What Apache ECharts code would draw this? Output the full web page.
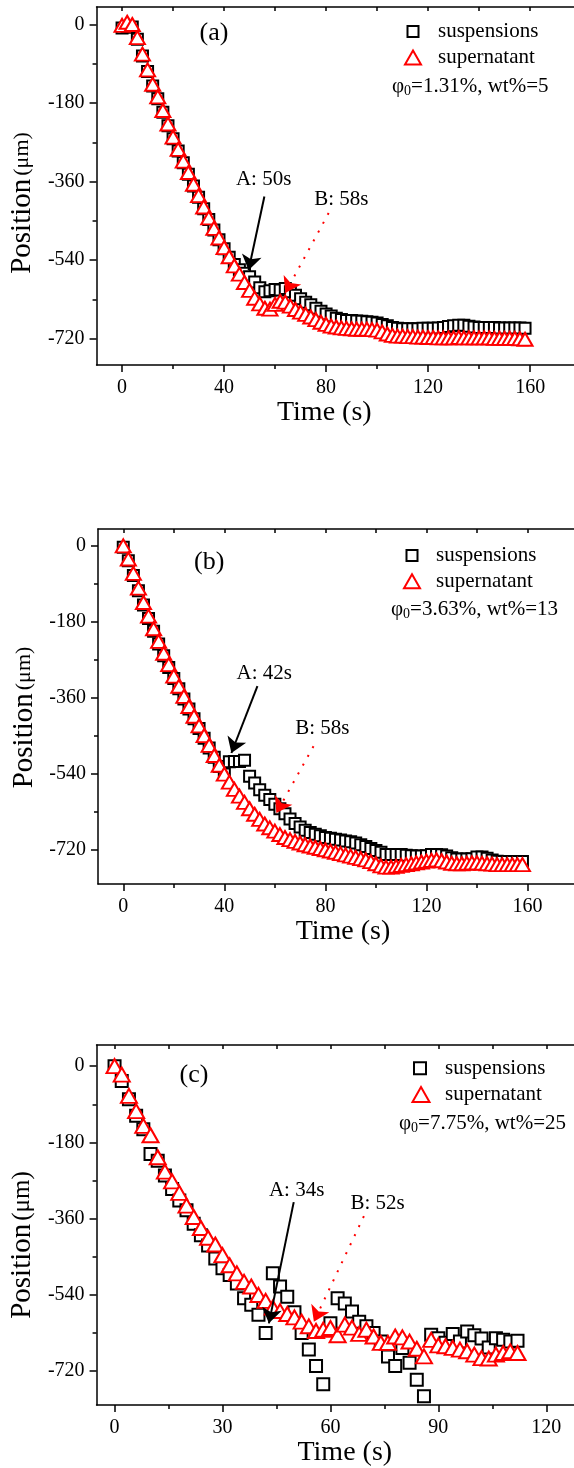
<!DOCTYPE html>
<html>
<head>
<meta charset="utf-8">
<script src="https://cdn.jsdelivr.net/npm/echarts@6/dist/echarts.min.js"></script>
<style>
html,body{margin:0;padding:0;background:#fff;}
#chart{width:574px;height:1468px;}
</style>
</head>
<body>
<div id="chart"></div>
<script>
// ---------------- DATA ----------------
const timeAB = [0,2,4,6,8,10,12,14,16,18,20,22,24,26,28,30,32,34,36,38,40,42,44,46,48,50,52,54,56,58,60,62,64,66,68,70,72,74,76,78,80,82,84,86,88,90,92,94,96,98,100,102,104,106,108,110,112,114,116,118,120,122,124,126,128,130,132,134,136,138,140,142,144,146,148,150,152,154,156,158];
const timeC = [0,2,4,6,8,10,12,14,16,18,20,22,24,26,28,30,32,34,36,38,40,42,44,46,48,50,52,54,56,58,60,62,64,66,68,70,72,74,76,78,80,82,84,86,88,90,92,94,96,98,100,102,104,106,108,110,112];

// panel (a)
const susA = [-8,-6,-6,-34,-72,-108,-141,-170,-201,-232,-262,-290,-317,-343,-370,-396,-422,-447,-471,-493,-514,-533,-550,-562,-570,-578,-590,-603,-612,-610,-607,-608,-605,-612,-620,-628,-636,-642,-650,-657,-663,-668,-673,-676,-678,-678,-679,-680,-681,-682,-684,-687,-690,-694,-696,-697,-697,-697,-697,-696,-696,-696,-695,-694,-692,-690,-689,-689,-691,-693,-694,-694,-694,-694,-695,-695,-695,-695,-695,-696];
const supA = [-2,5,0,-30,-68,-104,-137,-166,-197,-228,-258,-286,-313,-339,-366,-392,-418,-443,-467,-489,-511,-532,-553,-572,-591,-609,-627,-640,-650,-652,-641,-634,-636,-645,-653,-659,-664,-670,-676,-682,-687,-691,-693,-695,-696,-697,-698,-698,-698,-699,-700,-704,-709,-712,-714,-714,-715,-715,-716,-716,-717,-717,-718,-718,-718,-718,-717,-718,-718,-718,-718,-718,-718,-719,-719,-719,-719,-719,-720,-721];

// panel (b)
const susB = [-3,-35,-70,-106,-140,-172,-202,-232,-260,-288,-314,-338,-362,-386,-409,-432,-455,-478,-500,-522,-540,-511,-510,-510,-507,-545,-561,-577,-590,-600,-611,-622,-634,-646,-657,-665,-673,-678,-682,-686,-690,-692,-694,-696,-698,-700,-703,-707,-711,-716,-721,-725,-730,-730,-730,-730,-732,-733,-734,-734,-733,-730,-730,-731,-734,-738,-741,-741,-741,-740,-736,-736,-739,-743,-746,-747,-747,-747,-747,-747];
const supB = [0,-31,-65,-100,-134,-166,-196,-226,-254,-281,-308,-332,-356,-380,-403,-426,-449,-472,-496,-519,-540,-559,-576,-592,-607,-622,-635,-647,-658,-667,-675,-683,-690,-695,-699,-703,-707,-710,-713,-716,-719,-722,-725,-728,-731,-734,-737,-740,-743,-747,-752,-757,-760,-760,-758,-756,-754,-752,-750,-748,-746,-744,-743,-745,-748,-751,-752,-752,-751,-750,-750,-751,-752,-753,-754,-754,-754,-754,-754,-754];

// panel (c)
const susC = [0,-35,-78,-117,-149,-207,-223,-258,-290,-317,-340,-372,-399,-423,-454,-477,-493,-513,-548,-563,-587,-630,-489,-520,-544,-581,-630,-669,-708,-751,-607,-548,-560,-579,-603,-614,-630,-650,-685,-708,-665,-700,-740,-779,-634,-642,-653,-632,-650,-626,-635,-643,-664,-642,-646,-650,-648];
const supC = [0,-20,-70,-106,-141,-163,-215,-249,-272,-299,-329,-356,-382,-405,-421,-446,-470,-489,-509,-520,-540,-554,-570,-578,-585,-593,-603,-614,-625,-622,-618,-635,-610,-617,-632,-622,-638,-653,-653,-638,-640,-650,-667,-685,-646,-659,-661,-665,-669,-673,-681,-689,-690,-681,-677,-673,-677];

// tick values
const xTicksAB = [0,40,80,120,160];
const xMinorAB = [20,60,100,140];
const xTicksC = [0,30,60,90,120];
const xMinorC = [15,45,75,105];
const yTicks = [0,-180,-360,-540,-720];
const yMinor = [-90,-270,-450,-630];

// annotations: [label, textX, textY, fromX, fromY, toX, toY]
const annA = [['A: 50s',55.5,-356,55.8,-394,49.6,-563],['B: 58s',86,-402,81,-432,64,-615]];
const annB = [['A: 42s',55.8,-302,53.1,-332,42.8,-490],['B: 58s',78.8,-433,75.3,-474,60.6,-632]];
const annC = [['A: 34s',50.6,-293,49.8,-321,42.9,-607],['B: 52s',73.1,-325,69.3,-354,55.4,-603]];

const panelLabels = ['(a)','(b)','(c)'];
const phiTexts = ['=1.31%, wt%=5','=3.63%, wt%=13','=7.75%, wt%=25'];

// ---------------- CHART ----------------
const FONT = 'Liberation Serif';
const BLACK = '#000';
const RED = '#ff0000';
const zip = (t, v) => t.map((x, i) => [x, v[i]]);

const grids = [
  {left: 95, top: 7, width: 479, height: 358},
  {left: 98, top: 529, width: 476, height: 355},
  {left: 93, top: 1045, width: 481, height: 362}
];
const xRanges = [[-10, 177.2], [-10, 178.4], [-5, 127.7]];
const yRanges = [[-780, 40], [-800, 40], [-800, 50]];
const xTickSets = [[xTicksAB, xMinorAB], [xTicksAB, xMinorAB], [xTicksC, xMinorC]];
const timePad = [[0,22,0,0],[0,0,0,14],[0,0,0,19]];
const posPad = [[0,34,0,0],[0,22,0,0],[0,40,0,0]];
const muSize = [22, 22, 25];
const symSq = [11, 11, 12];
const symTri = [[15,13],[15,13],[16,14]];

const lineCol = {color: BLACK, width: 1.5};
const xAxes = [], yAxes = [];
for (let g = 0; g < 3; g++) {
  const [min, max] = xRanges[g];
  const [tk, mn] = xTickSets[g];
  xAxes.push({
    type: 'value', gridIndex: g, min, max, position: 'bottom',
    axisLine: {show: true, onZero: false, lineStyle: lineCol},
    axisTick: {show: true, inside: false, length: 7, customValues: tk, lineStyle: lineCol},
    axisLabel: {show: true, customValues: tk, margin: 13, color: BLACK, fontFamily: FONT, fontSize: 20},
    splitLine: {show: false},
    name: 'Time (s)', nameLocation: 'middle', nameGap: 31,
    nameTextStyle: {fontFamily: FONT, fontSize: 28, lineHeight: 28, color: BLACK, padding: timePad[g]}
  });
  xAxes.push({
    type: 'value', gridIndex: g, min, max, position: 'bottom',
    axisLine: {show: false, onZero: false},
    axisTick: {show: true, inside: false, length: 4, customValues: mn, lineStyle: lineCol},
    axisLabel: {show: false}, splitLine: {show: false}
  });
  xAxes.push({
    type: 'value', gridIndex: g, min, max, position: 'top',
    axisLine: {show: true, onZero: false, lineStyle: lineCol},
    axisTick: {show: true, inside: true, length: 4, customValues: tk.concat(mn), lineStyle: lineCol},
    axisLabel: {show: false}, splitLine: {show: false}
  });
  const [ymin, ymax] = yRanges[g];
  yAxes.push({
    type: 'value', gridIndex: g, min: ymin, max: ymax, position: 'left',
    axisLine: {show: true, onZero: false, lineStyle: lineCol},
    axisTick: {show: true, inside: false, length: 7, customValues: yTicks, lineStyle: lineCol},
    axisLabel: {show: true, customValues: yTicks, margin: 12, color: BLACK, fontFamily: FONT, fontSize: 20},
    splitLine: {show: false},
    name: '{p|Position} {u|(μm)}', nameLocation: 'middle', nameGap: 52,
    nameTextStyle: {
      color: BLACK, fontFamily: FONT, padding: posPad[g],
      rich: {
        p: {fontFamily: FONT, fontSize: 29, color: BLACK},
        u: {fontFamily: FONT, fontSize: muSize[g], color: BLACK}
      }
    }
  });
  yAxes.push({
    type: 'value', gridIndex: g, min: ymin, max: ymax, position: 'left',
    axisLine: {show: false, onZero: false},
    axisTick: {show: true, inside: false, length: 4, customValues: yMinor, lineStyle: lineCol},
    axisLabel: {show: false}, splitLine: {show: false}
  });
}

function annLine(a, color, dotted) {
  return {
    silent: true, animation: false,
    symbol: ['none', 'arrow'], symbolSize: 15,
    label: {show: false},
    lineStyle: {color, width: 2, type: dotted ? [2, 8] : 'solid'},
    itemStyle: {color},
    emphasis: {disabled: true},
    data: [[{coord: [a[3], a[4]]}, {coord: [a[5], a[6]]}]]
  };
}
function annText(a) {
  return {
    silent: true, animation: false,
    symbol: 'circle', symbolSize: 1,
    itemStyle: {color: 'rgba(0,0,0,0)'},
    label: {show: true, position: 'inside', formatter: a[0], color: BLACK, fontFamily: FONT, fontSize: 21},
    emphasis: {disabled: true},
    data: [{coord: [a[1], a[2]], name: a[0]}]
  };
}

const panels = [[timeAB, susA, supA, annA], [timeAB, susB, supB, annB], [timeC, susC, supC, annC]];
const series = [];
panels.forEach((p, g) => {
  const [t, sus, sup, ann] = p;
  series.push({
    name: 'suspensions', type: 'scatter', xAxisIndex: 3 * g, yAxisIndex: 2 * g,
    data: zip(t, sus), symbol: 'rect', symbolSize: symSq[g],
    itemStyle: {color: '#fff', borderColor: BLACK, borderWidth: 2, opacity: 1},
    emphasis: {disabled: true}, z: 2,
    markLine: annLine(ann[0], BLACK, false),
    markPoint: annText(ann[0])
  });
  series.push({
    name: 'supernatant', type: 'scatter', xAxisIndex: 3 * g, yAxisIndex: 2 * g,
    data: zip(t, sup), symbol: 'triangle', symbolSize: symTri[g],
    itemStyle: {color: '#fff', borderColor: RED, borderWidth: 2, opacity: 1},
    emphasis: {disabled: true}, z: 3,
    markLine: annLine(ann[1], RED, true),
    markPoint: annText(ann[1])
  });
});

const legText = {fontFamily: FONT, fontSize: 21, lineHeight: 20, color: BLACK};
function leg(name, icon, color, left, top, w, h, pad) {
  return {
    data: [{name, icon, itemStyle: {color: '#fff', borderColor: color, borderWidth: 2}}],
    left, top, itemWidth: w, itemHeight: h, padding: 0, selectedMode: false,
    textStyle: Object.assign({padding: [0, 0, 0, pad]}, legText)
  };
}
const legends = [
  leg('suspensions', 'rect', BLACK, 406.5, 21, 11, 11, 14.5),
  leg('supernatant', 'triangle', RED, 404, 47, 16, 14, 12),
  leg('suspensions', 'rect', BLACK, 405.5, 545, 11, 11, 13.5),
  leg('supernatant', 'triangle', RED, 403, 570.7, 16, 14, 11),
  leg('suspensions', 'rect', BLACK, 413, 1057.7, 12, 12, 14),
  leg('supernatant', 'triangle', RED, 411.5, 1084, 17, 15, 10.5)
];

const letterPos = [[199.5, 20], [194, 548.7], [179.5, 1062]];
const phiPos = [[392, 74], [391, 597], [399, 1111]];
const titles = [];
for (let g = 0; g < 3; g++) {
  titles.push({
    text: panelLabels[g], left: letterPos[g][0], top: letterPos[g][1], padding: 0,
    textStyle: {fontFamily: FONT, fontSize: 26, lineHeight: 26, fontWeight: 'normal', color: BLACK}
  });
  titles.push({
    text: '{p|φ}{s|0}{p|' + phiTexts[g] + '}', left: phiPos[g][0], top: phiPos[g][1], padding: 0,
    textStyle: {
      fontWeight: 'normal', color: BLACK,
      rich: {
        p: {fontFamily: FONT, fontSize: 21, lineHeight: 22, color: BLACK},
        s: {fontFamily: FONT, fontSize: 14, padding: [10, 0, 0, 0], color: BLACK}
      }
    }
  });
}

const chart = echarts.init(document.getElementById('chart'), null, {renderer: 'canvas'});
chart.setOption({
  animation: false,
  backgroundColor: '#fff',
  grid: grids,
  xAxis: xAxes,
  yAxis: yAxes,
  legend: legends,
  title: titles,
  series
});
</script>
</body>
</html>
